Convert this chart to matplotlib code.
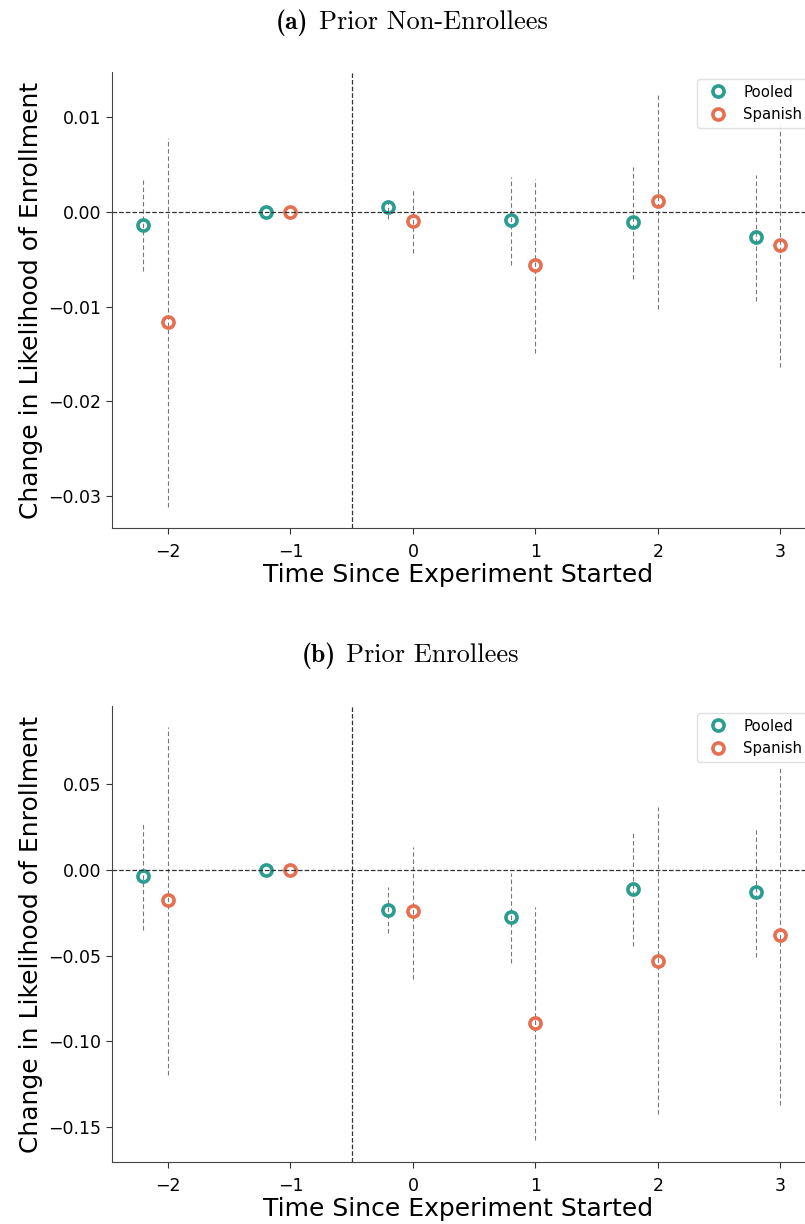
import numpy as np
import matplotlib
matplotlib.use("Agg")
import matplotlib.pyplot as plt

# event time
periods = [-2, -1, 0, 1, 2, 3]

# (a) prior non-enrollees
a_pooled = [-0.0014, 0.0, 0.0005, -0.0008, -0.0011, -0.0026]
a_pooled_lo = [-0.0062, 0.0, -0.0007, -0.0056, -0.0071, -0.0094]
a_pooled_hi = [0.0034, 0.0, 0.0015, 0.0037, 0.0048, 0.0039]
a_spanish = [-0.0116, 0.0, -0.0010, -0.0056, 0.0012, -0.0035]
a_spanish_lo = [-0.0312, 0.0, -0.0043, -0.0149, -0.0103, -0.0164]
a_spanish_hi = [0.0078, 0.0, 0.0023, 0.0035, 0.0126, 0.0094]

# (b) prior enrollees
b_pooled = [-0.0035, 0.0, -0.0233, -0.0274, -0.0110, -0.0128]
b_pooled_lo = [-0.0350, 0.0, -0.0368, -0.0543, -0.0443, -0.0505]
b_pooled_hi = [0.0274, 0.0, -0.0099, -0.0018, 0.0216, 0.0245]
b_spanish = [-0.0175, 0.0, -0.0239, -0.0893, -0.0531, -0.0380]
b_spanish_lo = [-0.1196, 0.0, -0.0636, -0.1575, -0.1424, -0.1370]
b_spanish_hi = [0.0834, 0.0, 0.0134, -0.0216, 0.0368, 0.0595]

teal = "#2a9d8f"
orange = "#e76f51"

fig = plt.figure(figsize=(8.05, 12.24), dpi=100)
ax_a = fig.add_axes([0.139, 0.5686, 0.861, 0.3726])
ax_b = fig.add_axes([0.139, 0.0507, 0.861, 0.3725])


def draw(ax, pooled, plo, phi, spanish, slo, shi, ylim, yticks):
    x = np.array(periods, dtype=float)
    for xs, mid, lo, hi, col, lab in [
        (x - 0.2, pooled, plo, phi, teal, "Pooled"),
        (x, spanish, slo, shi, orange, "Spanish"),
    ]:
        ax.vlines(xs, lo, hi, colors="#777777", linestyles=(0, (4, 2.5)), linewidth=0.8)
        ax.plot(xs, mid, "o", ms=8, mfc="none", mec=col, mew=2.6, ls="none", label=lab)
    ax.axhline(0, color="#333333", ls="--", lw=0.9)
    ax.axvline(-0.5, color="#333333", ls="--", lw=0.9)
    ax.set_xlim(-2.457, 3.2)
    ax.set_ylim(*ylim)
    ax.set_yticks(yticks)
    ax.set_yticklabels(["{:.2f}".format(v).replace("-", "\u2212") for v in yticks])
    ax.set_xticks(periods)
    ax.set_xticklabels([str(p).replace("-", "\u2212") for p in periods])
    ax.tick_params(labelsize=12.5, length=4, color="#333333")
    ax.tick_params(axis="x", pad=7)
    for s in ["top", "right"]:
        ax.spines[s].set_visible(False)
    for s in ["left", "bottom"]:
        ax.spines[s].set_color("#444444")
    ax.set_xlabel("Time Since Experiment Started", fontsize=18, labelpad=1)
    ax.set_ylabel("Change in Likelihood of Enrollment", fontsize=18, labelpad=4)
    ax.legend(loc="upper right", bbox_to_anchor=(1.014, 1.0), fontsize=10.7,
              handletextpad=0.7, borderaxespad=0.45, framealpha=0.9, edgecolor="#dddddd")


draw(ax_a, a_pooled, a_pooled_lo, a_pooled_hi, a_spanish, a_spanish_lo, a_spanish_hi,
     (-0.0334, 0.0148), [-0.03, -0.02, -0.01, 0.0, 0.01])
draw(ax_b, b_pooled, b_pooled_lo, b_pooled_hi, b_spanish, b_spanish_lo, b_spanish_hi,
     (-0.1704, 0.0957), [-0.15, -0.10, -0.05, 0.0, 0.05])

# captions: bold tag, then regular text right after it
for xl, y, tag, text in [(276 / 805, 1 - 29 / 1224, "(a)", "Prior Non-Enrollees"),
                         (302 / 805, 1 - 662 / 1224, "(b)", "Prior Enrollees")]:
    t1 = fig.text(xl, y, tag, family="cmb10", fontsize=18.5, ha="left", va="baseline")
    fig.canvas.draw()
    bb = t1.get_window_extent()
    fig.text((bb.x1 + 10) / fig.bbox.width, y, text, family="cmr10", fontsize=19,
             ha="left", va="baseline")

fig.savefig("out.png", dpi=100)
